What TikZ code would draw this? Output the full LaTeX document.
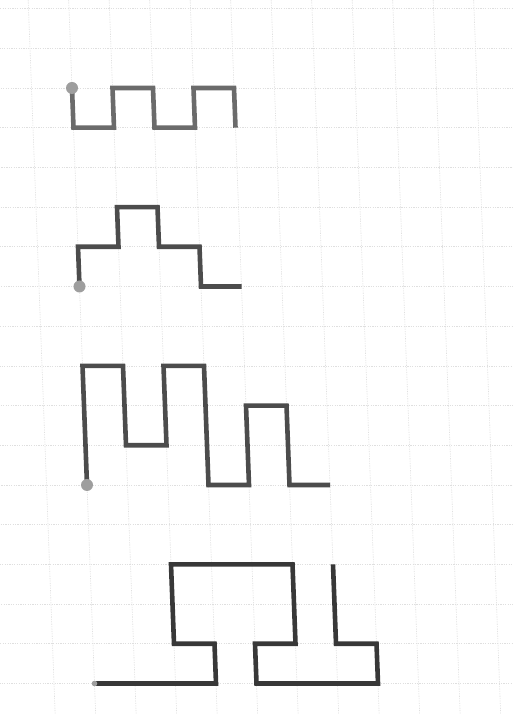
\documentclass[tikz,border=0pt]{standalone}
\begin{document}
\begin{tikzpicture}[x=1pt,y=1pt,
    gridline/.style={gray!25, line width=0.6pt, dash pattern=on 1.2pt off 1.2pt},
    trail/.style={black!70, line width=4.6pt, line join=miter, line cap=butt},
    startdot/.style={fill=black!38}]
    \useasboundingbox (0,0) rectangle (513,714);
    \fill[white] (0,0) rectangle (513,714);
    \clip (0,0) rectangle (513,714);
    % sheet of squared paper, slightly skewed as in the scan
    \begin{scope}[shift={(72pt,626pt)}, x={(40.5pt,0pt)}, y={(-1.5pt,39.7pt)}]
        \foreach \i in {-1,...,11}
            \draw[gridline] (\i,3) -- (\i,-17);
        \foreach \j in {-17,...,3}
            \draw[gridline] (-3,\j) -- (12,\j);
        % first row
        \draw[trail, black!58] (0,0) -- (0,-1) -- (1,-1) -- (1,0) -- (2,0) -- (2,-1)
            -- (3,-1) -- (3,0) -- (4,0) -- (4,-1);
        % second row
        \draw[trail] (0,-5) -- (0,-4) -- (1,-4) -- (1,-3) -- (2,-3) -- (2,-4)
            -- (3,-4) -- (3,-5) -- (4,-5);
        % third row
        \draw[trail] (0,-10) -- (0,-7) -- (1,-7) -- (1,-9) -- (2,-9) -- (2,-7)
            -- (3,-7) -- (3,-10) -- (4,-10) -- (4,-8) -- (5,-8) -- (5,-10) -- (6,-10);
        % fourth row
        \draw[trail, black!78] (0,-15) -- (3,-15) -- (3,-14) -- (2,-14) -- (2,-12) -- (5,-12)
            -- (5,-14) -- (4,-14) -- (4,-15) -- (7,-15) -- (7,-14) -- (6,-14) -- (6,-12);
        \fill[startdot] (0,0) circle (6pt);
        \fill[startdot] (0,-5) circle (6pt);
        \fill[startdot] (0,-10) circle (6pt);
        \fill[startdot] (0,-15) circle (2.8pt);
    \end{scope}
\end{tikzpicture}
\end{document}
